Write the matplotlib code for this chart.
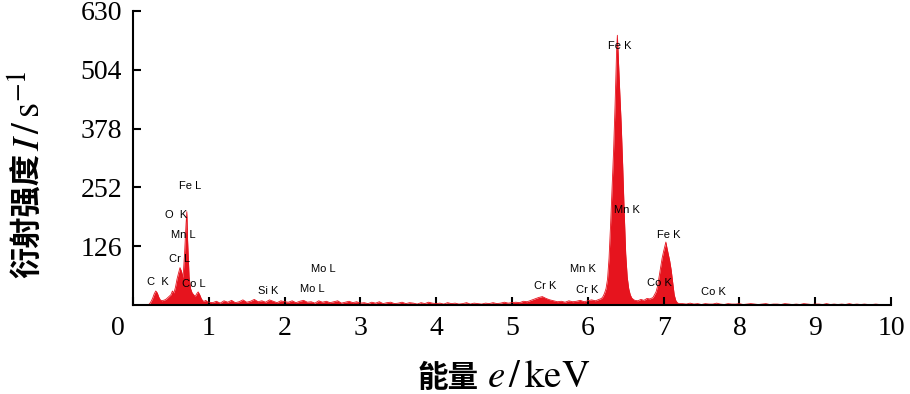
import numpy as np
import matplotlib
matplotlib.use("Agg")
import matplotlib.pyplot as plt
from matplotlib.transforms import ScaledTranslation

plt.rcParams['mathtext.fontset'] = 'stix'

# Spectrum: energy (keV) and counts (1/s)
low_e = [0.20, 0.22, 0.24, 0.26, 0.28, 0.30, 0.32, 0.34, 0.36, 0.38, 0.40, 0.42, 0.44, 0.46,
         0.48, 0.50, 0.52, 0.54, 0.56, 0.58, 0.60, 0.62, 0.64, 0.66, 0.68, 0.70, 0.71, 0.72,
         0.74, 0.76, 0.78, 0.80, 0.82, 0.84, 0.86, 0.88, 0.90, 0.92, 0.94, 0.96, 0.98, 1.00]
low_c = [0, 3, 8, 15, 24, 30, 26, 17, 11, 9, 10, 11, 13, 16,
         19, 22, 30, 26, 38, 55, 68, 80, 72, 58, 110, 175, 200, 140,
         60, 35, 26, 22, 18, 24, 28, 22, 14, 9, 8, 10, 7, 6]

mid_e = [1.05, 1.10, 1.15, 1.20, 1.25, 1.30, 1.35, 1.40, 1.45, 1.50, 1.55, 1.60, 1.65, 1.70,
         1.75, 1.80, 1.85, 1.90, 1.95, 2.00, 2.05, 2.10, 2.15, 2.20, 2.25, 2.30, 2.35, 2.40,
         2.45, 2.50, 2.55, 2.60, 2.65, 2.70, 2.75, 2.80, 2.85, 2.90, 2.95, 3.00, 3.05, 3.10,
         3.15, 3.20, 3.25, 3.30, 3.35, 3.40, 3.45, 3.50, 3.55, 3.60, 3.65, 3.70, 3.75, 3.80,
         3.85, 3.90, 3.95, 4.00, 4.05, 4.10, 4.15, 4.20, 4.25, 4.30, 4.35, 4.40, 4.45, 4.50,
         4.55, 4.60, 4.65, 4.70, 4.75, 4.80, 4.85, 4.90, 4.95, 5.00, 5.05, 5.10, 5.15, 5.20,
         5.25, 5.30, 5.35, 5.40, 5.45, 5.50, 5.55, 5.60, 5.65, 5.70, 5.75, 5.80, 5.85, 5.90,
         5.95, 6.00, 6.05, 6.10, 6.15]
mid_c = [5, 8, 4, 9, 6, 10, 5, 7, 11, 6, 8, 12, 7, 9,
         6, 11, 8, 5, 9, 7, 6, 9, 5, 8, 10, 6, 7, 4,
         9, 6, 8, 5, 7, 9, 4, 6, 8, 5, 7, 4, 5, 3,
         6, 4, 7, 3, 5, 6, 3, 4, 6, 3, 5, 4, 2, 5,
         3, 6, 4, 3, 4, 2, 5, 3, 4, 2, 3, 5, 2, 4,
         3, 2, 4, 3, 5, 3, 4, 6, 4, 5, 6, 5, 8, 7,
         10, 13, 16, 18, 14, 11, 9, 7, 8, 6, 9, 7, 8, 10,
         7, 9, 11, 9, 12]

fe_e = [6.18, 6.20, 6.22, 6.24, 6.26, 6.28, 6.30, 6.32, 6.34, 6.36, 6.38, 6.39, 6.40, 6.42,
        6.44, 6.46, 6.48, 6.50, 6.52, 6.54, 6.56, 6.58, 6.60, 6.62, 6.66, 6.70, 6.74, 6.78,
        6.82, 6.86, 6.88, 6.90, 6.92, 6.94, 6.96, 6.98, 7.00, 7.02, 7.03, 7.04, 7.06, 7.08,
        7.10, 7.12, 7.14, 7.16, 7.18, 7.20]
fe_c = [14, 18, 25, 35, 55, 100, 170, 250, 330, 430, 545, 578, 540, 460,
        390, 300, 200, 110, 60, 35, 22, 15, 12, 10, 9, 12, 10, 14,
        13, 16, 22, 28, 40, 60, 80, 100, 115, 128, 135, 126, 110, 95,
        75, 48, 22, 10, 5, 3]

high_e = [7.25, 7.30, 7.35, 7.40, 7.45, 7.50, 7.55, 7.60, 7.65, 7.70, 7.75, 7.80, 7.85, 7.90,
          7.95, 8.00, 8.05, 8.10, 8.15, 8.20, 8.25, 8.30, 8.35, 8.40, 8.45, 8.50, 8.55, 8.60,
          8.65, 8.70, 8.75, 8.80, 8.85, 8.90, 8.95, 9.00, 9.05, 9.10, 9.15, 9.20, 9.25, 9.30,
          9.35, 9.40, 9.45, 9.50, 9.55, 9.60, 9.65, 9.70, 9.75, 9.80, 9.85, 9.90, 9.95]
high_c = [3, 2, 4, 2, 3, 1, 3, 2, 2, 4, 2, 1, 3, 2,
          2, 3, 1, 2, 3, 2, 1, 2, 3, 1, 2, 2, 1, 3,
          2, 1, 2, 1, 3, 2, 1, 2, 2, 1, 3, 1, 2, 1,
          2, 1, 3, 1, 2, 1, 2, 1, 1, 2, 1, 1, 0]

# Peak labels: text, energy, counts
peak_labels = ["Fe L", "O  K", "Mn L", "Cr L", "C  K", "Co L", "Si K", "Mo L", "Mo L",
               "Cr K", "Mn K", "Cr K", "Fe K", "Mn K", "Fe K", "Co K", "Co K"]
label_e = [0.75, 0.57, 0.66, 0.61, 0.33, 0.80, 1.79, 2.51, 2.36,
           5.44, 5.94, 5.99, 6.42, 6.52, 7.07, 6.95, 7.66]
label_c = [255, 193, 149, 99, 50, 45, 30, 78, 34,
           40, 78, 32, 556, 203, 149, 47, 28]

x_ticks = [0, 1, 2, 3, 4, 5, 6, 7, 8, 9, 10]
y_ticks = [126, 252, 378, 504, 630]

energy = np.array(low_e + mid_e + fe_e + high_e)
counts = np.array(low_c + mid_c + fe_c + high_c)

red = '#e6141e'
W, H = 910, 394
fig = plt.figure(figsize=(W / 100, H / 100), dpi=100)
ax = fig.add_axes([133 / W, 89 / H, 758 / W, 294 / H])
ax.fill_between(energy, counts, 0, color=red, linewidth=0)
ax.plot(energy, counts, color=red, linewidth=0.6)

for txt, e, c in zip(peak_labels, label_e, label_c):
    ax.text(e, c, txt, fontsize=8, family='Liberation Sans', ha='center', va='center')

ax.set_xlim(0, 10)
ax.set_ylim(0, 630)
ax.set_xticks(x_ticks)
ax.set_yticks(y_ticks)
ax.set_xticklabels([str(t) for t in x_ticks], family='Liberation Serif', fontsize=20)
ax.set_yticklabels([str(t) for t in y_ticks], family='Liberation Serif', fontsize=20)
ax.tick_params(direction='in', length=6, width=1.5, pad=8)
for side in ['top', 'right']:
    ax.spines[side].set_visible(False)
for side in ['left', 'bottom']:
    ax.spines[side].set_linewidth(1.5)

# the corner "0" sits a little to the left of the axis
zero = ax.xaxis.get_major_ticks()[0].label1
zero.set_transform(zero.get_transform() + ScaledTranslation(-0.15, 0, fig.dpi_scale_trans))

# axis titles: Chinese part and symbol part set separately
cjk = ['Noto Sans CJK SC', 'DejaVu Sans']
fig.text(479 / W, 1 - 378 / H, '能量', family=cjk, fontsize=22, fontweight='bold',
         ha='right', va='center')
fig.text(487 / W, 1 - 376 / H, '$e\\,/\\,\\mathrm{keV}$', fontsize=28, ha='left', va='center')
fig.text(28 / W, 1 - 278 / H, '衍射强度', family=cjk, fontsize=22.5, fontweight='bold',
         rotation=90, ha='center', va='bottom')
fig.text(30 / W, 1 - 151 / H, '$I\\,/\\,\\mathrm{s}^{-1}$', fontsize=28,
         rotation=90, ha='center', va='bottom')

fig.savefig('out.png', dpi=100)
